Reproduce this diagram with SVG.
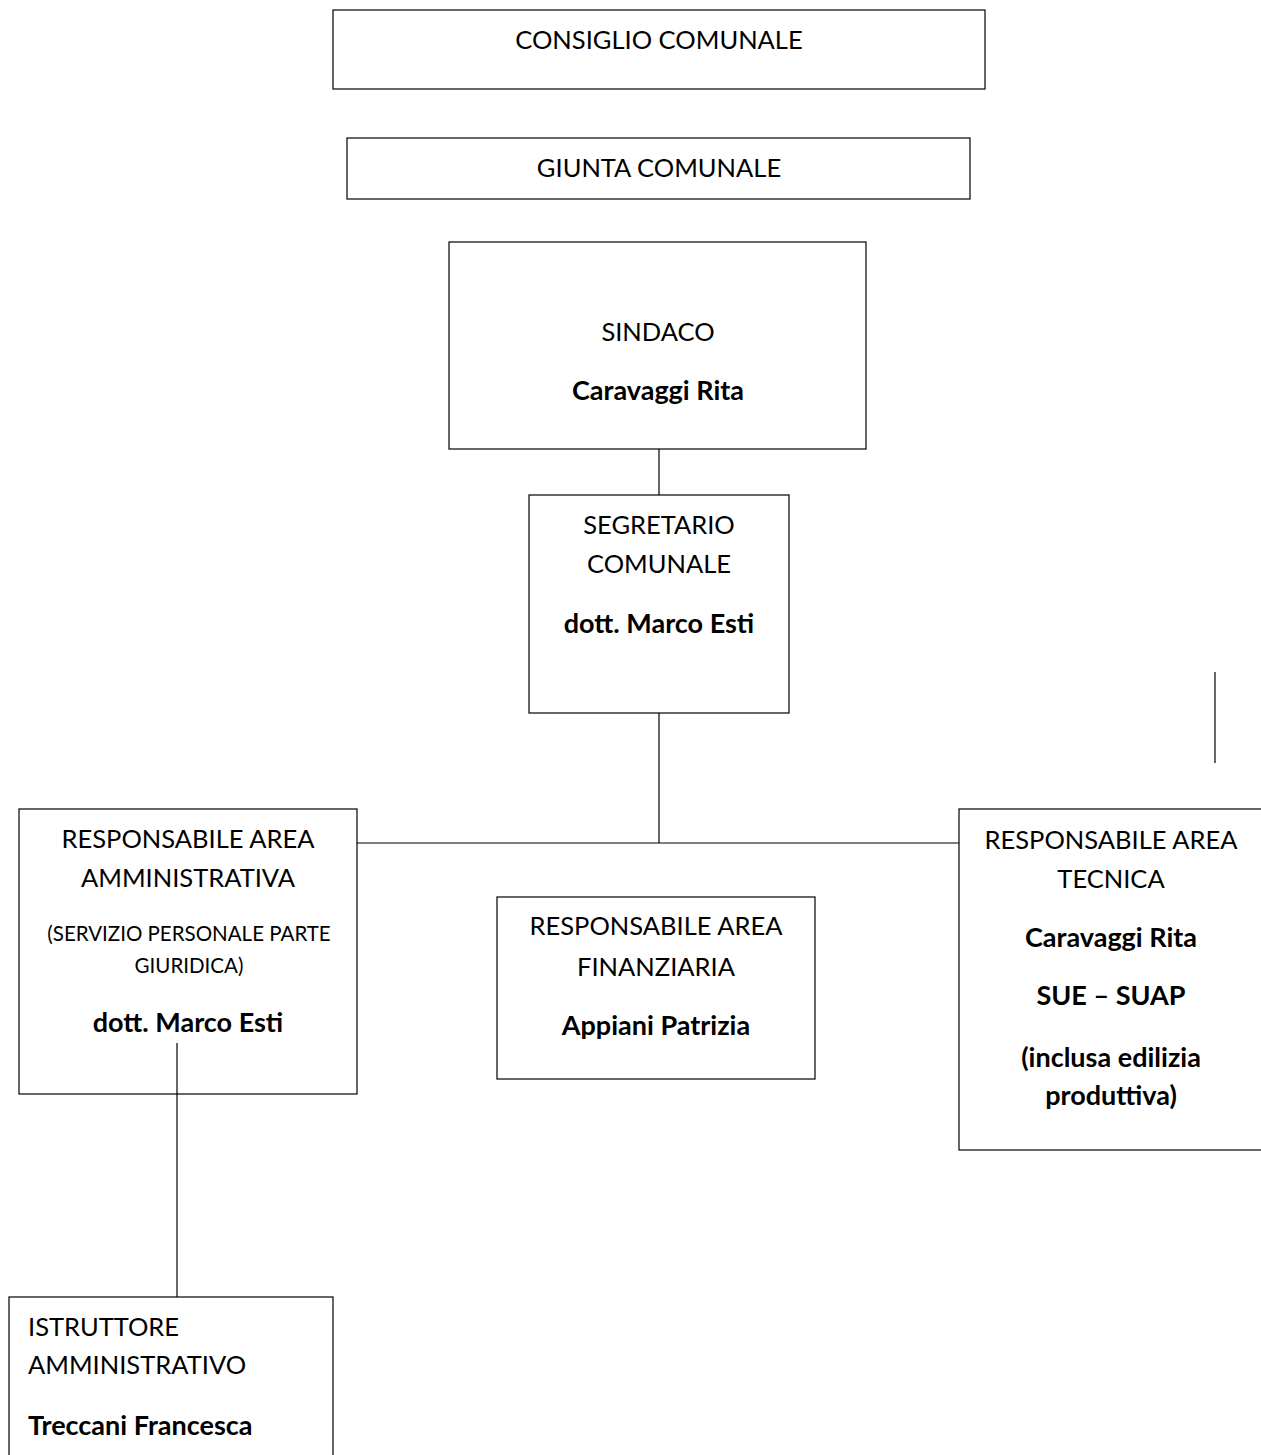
<svg xmlns="http://www.w3.org/2000/svg" width="1261" height="1455" viewBox="0 0 1261 1455">
<style>
.box{fill:#fff;stroke:#000;stroke-width:1.2}
.t{font-family:Lato,"Liberation Sans",sans-serif;font-size:25.5px;fill:#000;text-anchor:middle}
.s{font-size:20.5px}
.b{font-weight:bold;font-size:27px}
.l{text-anchor:start}
.c{stroke:#000;stroke-width:1.2;fill:none}
</style>
<rect width="1261" height="1455" fill="#fff"/>
<g id="consiglio">
<rect class="box" x="333" y="10" width="652" height="79"/>
<text class="t" x="659" y="49">CONSIGLIO COMUNALE</text>
</g>
<g id="giunta">
<rect class="box" x="347" y="138" width="623" height="61"/>
<text class="t" x="659" y="177">GIUNTA COMUNALE</text>
</g>
<g id="sindaco">
<rect class="box" x="449" y="242" width="417" height="207"/>
<text class="t" x="658" y="341">SINDACO</text>
<text class="t b" x="658" y="400">Caravaggi Rita</text>
</g>
<g id="segretario">
<rect class="box" x="529" y="495" width="260" height="218"/>
<text class="t" x="659" y="534">SEGRETARIO</text>
<text class="t" x="659" y="573">COMUNALE</text>
<text class="t b" x="659" y="633">dott. Marco Esti</text>
</g>
<g id="area-amministrativa">
<rect class="box" x="19" y="809" width="338" height="285"/>
<text class="t" x="188" y="848">RESPONSABILE AREA</text>
<text class="t" x="188" y="887">AMMINISTRATIVA</text>
<text class="t s" x="189" y="941">(SERVIZIO PERSONALE PARTE</text>
<text class="t s" x="189" y="973">GIURIDICA)</text>
<text class="t b" x="188" y="1032">dott. Marco Esti</text>
</g>
<g id="area-finanziaria">
<rect class="box" x="497" y="897" width="318" height="182"/>
<text class="t" x="656" y="935">RESPONSABILE AREA</text>
<text class="t" x="656" y="976">FINANZIARIA</text>
<text class="t b" x="656" y="1035">Appiani Patrizia</text>
</g>
<g id="area-tecnica">
<rect class="box" x="959" y="809" width="310" height="341"/>
<text class="t" x="1111" y="849">RESPONSABILE AREA</text>
<text class="t" x="1111" y="888">TECNICA</text>
<text class="t b" x="1111" y="947">Caravaggi Rita</text>
<text class="t b" x="1111" y="1005">SUE – SUAP</text>
<text class="t b" x="1111" y="1067">(inclusa edilizia</text>
<text class="t b" x="1111" y="1105">produttiva)</text>
</g>
<g id="istruttore">
<rect class="box" x="9" y="1297" width="324" height="180"/>
<text class="t l" x="28" y="1336">ISTRUTTORE</text>
<text class="t l" x="28" y="1374">AMMINISTRATIVO</text>
<text class="t b l" x="28" y="1435">Treccani Francesca</text>
</g>
<g id="connectors">
<line class="c" x1="659" y1="449" x2="659" y2="495"/>
<line class="c" x1="659" y1="713" x2="659" y2="843"/>
<line class="c" x1="357" y1="843" x2="959" y2="843"/>
<line class="c" x1="177" y1="1043" x2="177" y2="1297"/>
<line class="c" x1="1215" y1="672" x2="1215" y2="763"/>
</g>
</svg>
